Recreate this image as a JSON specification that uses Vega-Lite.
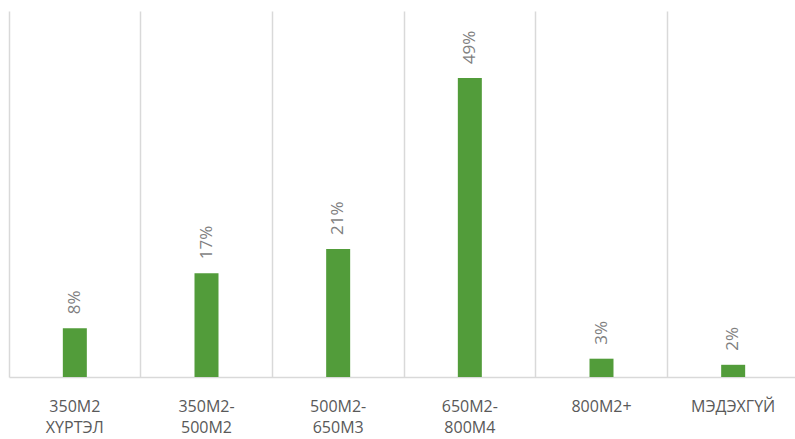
{
  "$schema": "https://vega.github.io/schema/vega-lite/v6.json",
  "width": 790,
  "height": 366,
  "autosize": {"type": "none"},
  "padding": {"left": 9, "top": 11, "right": 0, "bottom": 62},
  "background": "white",
  "config": {"view": {"stroke": null}, "font": "Open Sans"},
  "data": {
    "values": [
      {"cat": "350М2\nХҮРТЭЛ", "value": 0.08, "label": "8%"},
      {"cat": "350М2-\n500М2", "value": 0.17, "label": "17%"},
      {"cat": "500М2-\n650М3", "value": 0.21, "label": "21%"},
      {"cat": "650М2-\n800М4", "value": 0.49, "label": "49%"},
      {"cat": "800М2+", "value": 0.03, "label": "3%"},
      {"cat": "МЭДЭХГҮЙ", "value": 0.02, "label": "2%"}
    ]
  },
  "encoding": {
    "x": {
      "field": "cat",
      "type": "nominal",
      "sort": null,
      "scale": {"paddingInner": 0, "paddingOuter": 0},
      "axis": {
        "title": null,
        "labelAngle": 0,
        "labelExpr": "split(datum.label, '\\n')",
        "labelFont": "Open Sans",
        "labelFontSize": 16,
        "labelColor": "#595959",
        "labelPadding": 21,
        "labelLineHeight": 21,
        "labelBaseline": "top",
        "ticks": false,
        "domainColor": "#d9d9d9",
        "domainWidth": 1.5,
        "grid": true,
        "gridColor": "#d9d9d9",
        "gridWidth": 1.5,
        "bandPosition": 0
      }
    },
    "y": {
      "field": "value",
      "type": "quantitative",
      "scale": {"domain": [0, 0.6]},
      "axis": null
    }
  },
  "layer": [
    {"mark": {"type": "bar", "size": 24, "color": "#529c3a"}},
    {
      "mark": {
        "type": "text",
        "angle": 270,
        "align": "left",
        "baseline": "middle",
        "dx": 14,
        "font": "Open Sans",
        "fontSize": 17,
        "color": "#7f7f7f"
      },
      "encoding": {"text": {"field": "label"}}
    }
  ]
}
